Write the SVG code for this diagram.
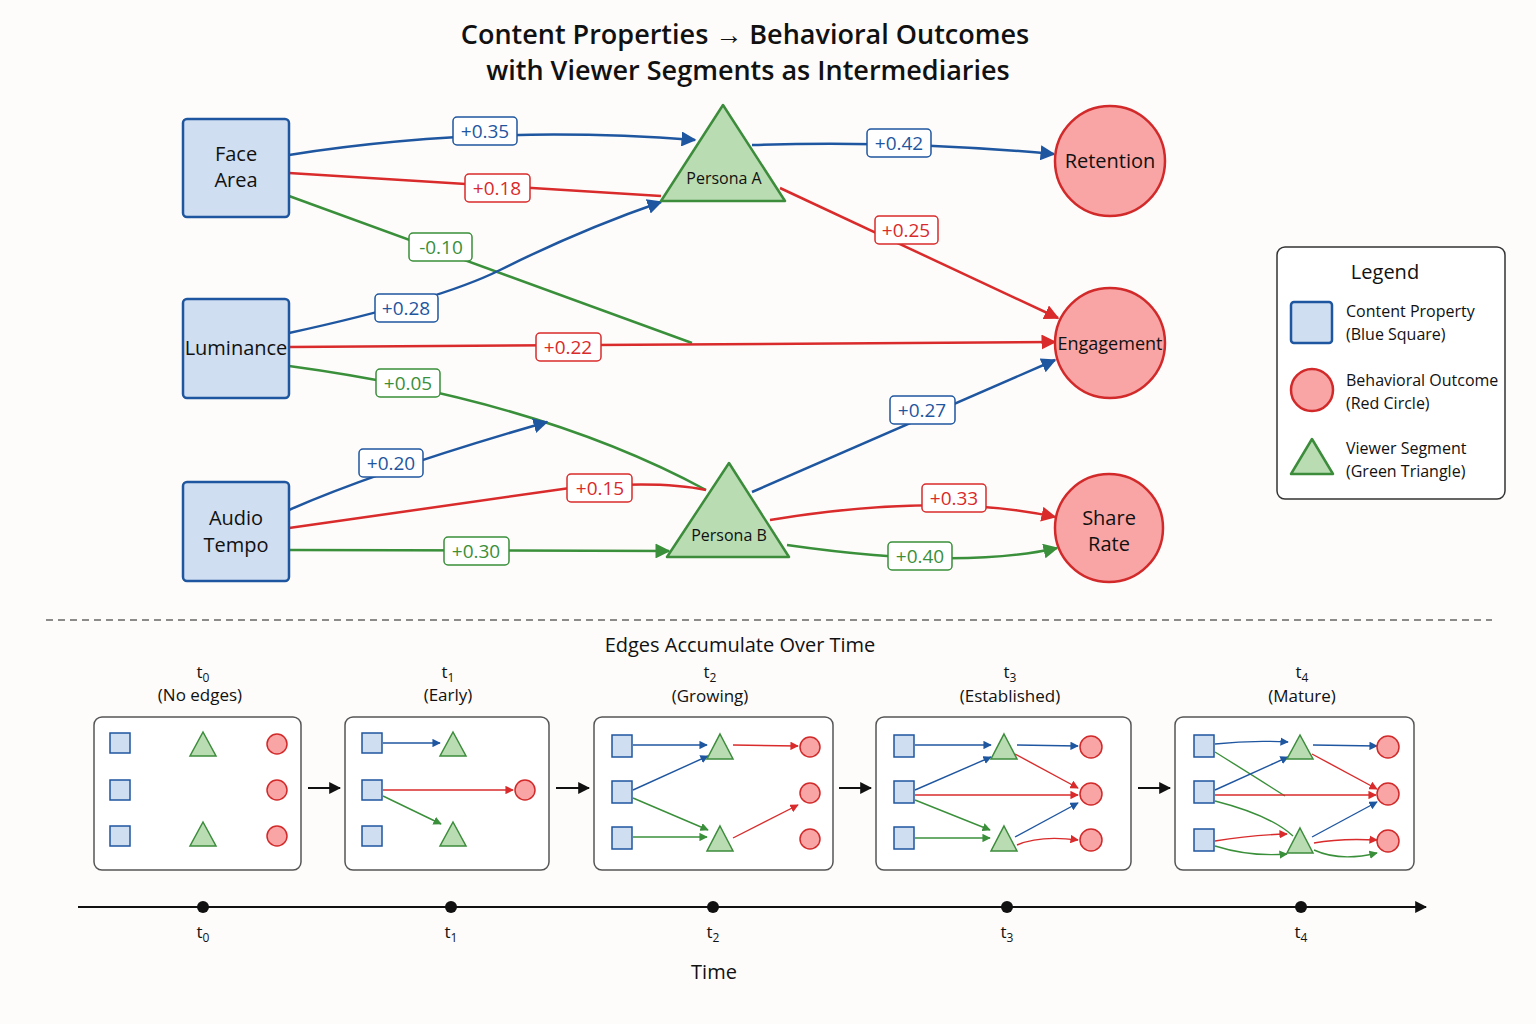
<svg xmlns="http://www.w3.org/2000/svg" width="1536" height="1024" viewBox="0 0 1536 1024">
<style>
text{font-family:"Open Sans","Liberation Sans",sans-serif;fill:#111}
.t{font-size:27px;font-weight:600;text-anchor:middle}
.n{font-size:20px;text-anchor:middle}
.p{font-size:16px;text-anchor:middle}
.lb{font-size:19px;text-anchor:middle}
.sq{fill:#cfdef0;stroke:#1f56a0;stroke-width:2.5}
.ci{fill:#f9a5a5;stroke:#d22a2a;stroke-width:2.5}
.tr{fill:#b9dcb2;stroke:#3c8c3c;stroke-width:2.5;stroke-linejoin:round}
.b{stroke:#1f56a0;fill:none;stroke-width:2.5}
.r{stroke:#d92b2b;fill:none;stroke-width:2.5}
.g{stroke:#3a8f3a;fill:none;stroke-width:2.5}
.bl{fill:#fff;stroke:#1f56a0;stroke-width:1.5}
.rl{fill:#fff;stroke:#d92b2b;stroke-width:1.5}
.gl{fill:#fff;stroke:#3a8f3a;stroke-width:1.5}
.bt{fill:#1f56a0}.rt{fill:#d92b2b}.gt{fill:#3a8f3a}
.mb{stroke:#1f56a0;fill:none;stroke-width:1.4}
.mr{stroke:#d92b2b;fill:none;stroke-width:1.4}
.mg{stroke:#3a8f3a;fill:none;stroke-width:1.4}
.ms{fill:#cfdef0;stroke:#1f56a0;stroke-width:1.5}
.mc{fill:#f9a5a5;stroke:#d22a2a;stroke-width:1.5}
.mt{fill:#b9dcb2;stroke:#3c8c3c;stroke-width:1.5}
.pn{fill:#fff;stroke:#555;stroke-width:1.5}
.s{font-size:17px;text-anchor:middle}
</style>
<defs>
<marker id="ab" viewBox="0 0 10 10" refX="9" refY="5" markerWidth="6" markerHeight="6" orient="auto"><path d="M0,0L10,5L0,10z" fill="#1f56a0"/></marker>
<marker id="ar" viewBox="0 0 10 10" refX="9" refY="5" markerWidth="6" markerHeight="6" orient="auto"><path d="M0,0L10,5L0,10z" fill="#d92b2b"/></marker>
<marker id="ag" viewBox="0 0 10 10" refX="9" refY="5" markerWidth="6" markerHeight="6" orient="auto"><path d="M0,0L10,5L0,10z" fill="#3a8f3a"/></marker>
<marker id="sb" viewBox="0 0 10 10" refX="9" refY="5" markerWidth="6" markerHeight="6" orient="auto"><path d="M0,0L10,5L0,10z" fill="#1f56a0"/></marker>
<marker id="ak" viewBox="0 0 10 10" refX="9" refY="5" markerWidth="6" markerHeight="6" orient="auto"><path d="M0,0L10,5L0,10z" fill="#111"/></marker>
</defs>
<rect width="1536" height="1024" fill="#fdfcfa"/>
<text class="t" x="745" y="44">Content Properties → Behavioral Outcomes</text>
<text class="t" x="748" y="80">with Viewer Segments as Intermediaries</text>

<g id="connectors">
<path class="b" marker-end="url(#ab)" d="M289,155 Q485,124 695,140"/>
<path class="r" d="M289,173 L661,196"/>
<path class="g" d="M289,196 Q520,280 692,343"/>
<path class="b" marker-end="url(#ab)" d="M289,333 Q440,300 500,270 Q580,230 661,202"/>
<path class="r" marker-end="url(#ar)" d="M289,347 L1055,342"/>
<path class="g" d="M289,366 Q540,400 706,490"/>
<path class="b" marker-end="url(#ab)" d="M289,510 Q380,470 547,422"/>
<path class="r" d="M289,528 L570,488 Q660,480 706,490"/>
<path class="g" marker-end="url(#ag)" d="M289,550 L669,551"/>
<path class="b" marker-end="url(#ab)" d="M752,145 Q900,140 1054,154"/>
<path class="r" marker-end="url(#ar)" d="M780,188 L1058,318"/>
<path class="b" marker-end="url(#ab)" d="M752,492 L1055,360"/>
<path class="r" marker-end="url(#ar)" d="M770,520 Q940,492 1055,517"/>
<path class="g" marker-end="url(#ag)" d="M787,545 Q960,570 1057,548"/>
<rect class="bl" x="453" y="117" width="64" height="28" rx="4"/><text class="lb bt" x="485" y="138">+0.35</text>
<rect class="rl" x="465" y="174" width="65" height="28" rx="4"/><text class="lb rt" x="497" y="195">+0.18</text>
<rect class="gl" x="409" y="233" width="63" height="28" rx="4"/><text class="lb gt" x="441" y="254">-0.10</text>
<rect class="bl" x="375" y="294" width="63" height="28" rx="4"/><text class="lb bt" x="406" y="315">+0.28</text>
<rect class="rl" x="536" y="333" width="65" height="28" rx="4"/><text class="lb rt" x="568" y="354">+0.22</text>
<rect class="gl" x="376" y="369" width="64" height="28" rx="4"/><text class="lb gt" x="408" y="390">+0.05</text>
<rect class="bl" x="359" y="449" width="64" height="28" rx="4"/><text class="lb bt" x="391" y="470">+0.20</text>
<rect class="rl" x="567" y="474" width="65" height="28" rx="4"/><text class="lb rt" x="600" y="495">+0.15</text>
<rect class="gl" x="444" y="537" width="65" height="28" rx="4"/><text class="lb gt" x="476" y="558">+0.30</text>
<rect class="bl" x="867" y="129" width="64" height="28" rx="4"/><text class="lb bt" x="899" y="150">+0.42</text>
<rect class="rl" x="875" y="216" width="63" height="28" rx="4"/><text class="lb rt" x="906" y="237">+0.25</text>
<rect class="bl" x="890" y="396" width="65" height="28" rx="4"/><text class="lb bt" x="922" y="417">+0.27</text>
<rect class="rl" x="922" y="484" width="64" height="28" rx="4"/><text class="lb rt" x="954" y="505">+0.33</text>
<rect class="gl" x="888" y="542" width="64" height="28" rx="4"/><text class="lb gt" x="920" y="563">+0.40</text>
</g>

<g id="face-area"><rect class="sq" x="183" y="119" width="106" height="98" rx="4"/><text class="n" x="236" y="161">Face</text><text class="n" x="236" y="187">Area</text></g>
<g id="luminance"><rect class="sq" x="183" y="299" width="106" height="99" rx="4"/><text class="n" x="236" y="355">Luminance</text></g>
<g id="audio-tempo"><rect class="sq" x="183" y="482" width="106" height="99" rx="4"/><text class="n" x="236" y="525">Audio</text><text class="n" x="236" y="552">Tempo</text></g>
<g id="persona-a"><path class="tr" d="M723,105 L785,201 L661,201Z"/><text class="p" x="724" y="184">Persona A</text></g>
<g id="persona-b"><path class="tr" d="M729,463 L789,557 L667,557Z"/><text class="p" x="729" y="541">Persona B</text></g>
<g id="retention"><circle class="ci" cx="1110" cy="161" r="55"/><text class="n" x="1110" y="168">Retention</text></g>
<g id="engagement"><circle class="ci" cx="1110" cy="343" r="55"/><text class="n" x="1110" y="350" style="font-size:18px">Engagement</text></g>
<g id="share-rate"><circle class="ci" cx="1109" cy="528" r="54"/><text class="n" x="1109" y="525">Share</text><text class="n" x="1109" y="551">Rate</text></g>

<g id="legend">
<rect x="1277" y="247" width="228" height="252" rx="8" fill="#fff" stroke="#333" stroke-width="1.5"/>
<text x="1385" y="279" style="font-size:20px;text-anchor:middle">Legend</text>
<rect class="sq" x="1291" y="302" width="41" height="41" rx="3"/>
<text x="1346" y="317" style="font-size:16px">Content Property</text><text x="1346" y="340" style="font-size:16px">(Blue Square)</text>
<circle class="ci" cx="1312" cy="390" r="21"/>
<text x="1346" y="386" style="font-size:16px">Behavioral Outcome</text><text x="1346" y="409" style="font-size:16px">(Red Circle)</text>
<path class="tr" d="M1312,439 L1333,474 L1291,474Z"/>
<text x="1346" y="454" style="font-size:16px">Viewer Segment</text><text x="1346" y="477" style="font-size:16px">(Green Triangle)</text>
</g>

<line x1="46" y1="620" x2="1492" y2="620" stroke="#666" stroke-width="1.3" stroke-dasharray="7,5"/>
<text x="740" y="652" style="font-size:20px;text-anchor:middle">Edges Accumulate Over Time</text>

<g id="panels">
<text class="s" x="203" y="678">t<tspan font-size="12" dy="4">0</tspan></text><text class="s" x="200" y="701">(No edges)</text>
<text class="s" x="448" y="678">t<tspan font-size="12" dy="4">1</tspan></text><text class="s" x="448" y="701">(Early)</text>
<text class="s" x="710" y="678">t<tspan font-size="12" dy="4">2</tspan></text><text class="s" x="710" y="702">(Growing)</text>
<text class="s" x="1010" y="678">t<tspan font-size="12" dy="4">3</tspan></text><text class="s" x="1010" y="702">(Established)</text>
<text class="s" x="1302" y="678">t<tspan font-size="12" dy="4">4</tspan></text><text class="s" x="1302" y="702">(Mature)</text>

<rect class="pn" x="94" y="717" width="207" height="153" rx="8"/>
<rect class="pn" x="345" y="717" width="204" height="153" rx="8"/>
<rect class="pn" x="594" y="717" width="239" height="153" rx="8"/>
<rect class="pn" x="876" y="717" width="255" height="153" rx="8"/>
<rect class="pn" x="1175" y="717" width="239" height="153" rx="8"/>
<g stroke="#111" stroke-width="2" marker-end="url(#ak)">
<line x1="308" y1="788" x2="340" y2="788"/><line x1="556" y1="788" x2="589" y2="788"/><line x1="839" y1="788" x2="871" y2="788"/><line x1="1138" y1="788" x2="1170" y2="788"/>
</g>

<!-- panel 1 -->
<rect class="ms" x="110" y="733" width="20" height="20"/><rect class="ms" x="110" y="780" width="20" height="20"/><rect class="ms" x="110" y="826" width="20" height="20"/>
<path class="mt" d="M203,732L216,756L190,756Z"/><path class="mt" d="M203,822L216,846L190,846Z"/>
<circle class="mc" cx="277" cy="744" r="10"/><circle class="mc" cx="277" cy="790" r="10"/><circle class="mc" cx="277" cy="836" r="10"/>

<!-- panel 2 -->
<path class="mb" marker-end="url(#ab)" d="M383,743L440,743"/>
<path class="mr" marker-end="url(#ar)" d="M383,790L513,790"/>
<path class="mg" marker-end="url(#ag)" d="M383,796L441,824"/>
<rect class="ms" x="362" y="733" width="20" height="20"/><rect class="ms" x="362" y="780" width="20" height="20"/><rect class="ms" x="362" y="826" width="20" height="20"/>
<path class="mt" d="M453,732L466,756L440,756Z"/><path class="mt" d="M453,822L466,846L440,846Z"/>
<circle class="mc" cx="525" cy="790" r="10"/>

<!-- panel 3 -->
<path class="mb" marker-end="url(#ab)" d="M633,745L707,745"/>
<path class="mb" marker-end="url(#ab)" d="M633,790L708,756"/>
<path class="mg" marker-end="url(#ag)" d="M633,798L708,830"/>
<path class="mg" marker-end="url(#ag)" d="M633,837L707,837"/>
<path class="mr" marker-end="url(#ar)" d="M733,745L798,746"/>
<path class="mr" marker-end="url(#ar)" d="M733,838L798,805"/>
<rect class="ms" x="612" y="735" width="20" height="22"/><rect class="ms" x="612" y="781" width="20" height="22"/><rect class="ms" x="612" y="827" width="20" height="22"/>
<path class="mt" d="M720,734L733,759L707,759Z"/><path class="mt" d="M720,826L733,851L707,851Z"/>
<circle class="mc" cx="810" cy="747" r="10"/><circle class="mc" cx="810" cy="793" r="10"/><circle class="mc" cx="810" cy="839" r="10"/>

<!-- panel 4 -->
<path class="mb" marker-end="url(#ab)" d="M915,745L991,745"/>
<path class="mb" marker-end="url(#ab)" d="M915,790L991,757"/>
<path class="mr" marker-end="url(#ar)" d="M915,795L1078,795"/>
<path class="mg" marker-end="url(#ag)" d="M915,800L990,830"/>
<path class="mg" marker-end="url(#ag)" d="M915,838L990,838"/>
<path class="mb" marker-end="url(#ab)" d="M1017,745L1078,746"/>
<path class="mr" marker-end="url(#ar)" d="M1015,754L1078,788"/>
<path class="mb" marker-end="url(#ab)" d="M1015,837L1078,803"/>
<path class="mr" marker-end="url(#ar)" d="M1017,845Q1040,835 1078,840"/>
<rect class="ms" x="894" y="735" width="20" height="22"/><rect class="ms" x="894" y="781" width="20" height="22"/><rect class="ms" x="894" y="827" width="20" height="22"/>
<path class="mt" d="M1004,734L1017,759L991,759Z"/><path class="mt" d="M1004,826L1017,851L991,851Z"/>
<circle class="mc" cx="1091" cy="747" r="11"/><circle class="mc" cx="1091" cy="794" r="11"/><circle class="mc" cx="1091" cy="840" r="11"/>

<!-- panel 5 -->
<path class="mb" marker-end="url(#ab)" d="M1215,744Q1250,740 1288,742"/>
<path class="mg" d="M1215,752Q1260,780 1285,796"/>
<path class="mb" marker-end="url(#ab)" d="M1215,790L1288,757"/>
<path class="mr" marker-end="url(#ar)" d="M1215,795L1376,795"/>
<path class="mg" d="M1215,801Q1270,815 1293,836"/>
<path class="mr" marker-end="url(#ar)" d="M1215,841Q1250,835 1287,834"/>
<path class="mg" marker-end="url(#ag)" d="M1215,846Q1250,857 1287,854"/>
<path class="mb" marker-end="url(#ab)" d="M1313,745L1377,746"/>
<path class="mr" marker-end="url(#ar)" d="M1312,754L1377,789"/>
<path class="mb" marker-end="url(#ab)" d="M1312,837L1377,802"/>
<path class="mr" marker-end="url(#ar)" d="M1314,843Q1340,838 1377,840"/>
<path class="mg" marker-end="url(#ag)" d="M1314,850Q1340,862 1377,853"/>
<rect class="ms" x="1194" y="735" width="20" height="22"/><rect class="ms" x="1194" y="781" width="20" height="22"/><rect class="ms" x="1194" y="829" width="20" height="22"/>
<path class="mt" d="M1300,735L1313,759L1287,759Z"/><path class="mt" d="M1300,828L1313,853L1287,853Z"/>
<circle class="mc" cx="1388" cy="747" r="11"/><circle class="mc" cx="1388" cy="794" r="11"/><circle class="mc" cx="1388" cy="841" r="11"/>
</g>

<g id="timeline">
<line x1="78" y1="907" x2="1426" y2="907" stroke="#111" stroke-width="2" marker-end="url(#ak)"/>
<g fill="#111"><circle cx="203" cy="907" r="6"/><circle cx="451" cy="907" r="6"/><circle cx="713" cy="907" r="6"/><circle cx="1007" cy="907" r="6"/><circle cx="1301" cy="907" r="6"/></g>
<text class="s" x="203" y="938">t<tspan font-size="12" dy="4">0</tspan></text>
<text class="s" x="451" y="938">t<tspan font-size="12" dy="4">1</tspan></text>
<text class="s" x="713" y="938">t<tspan font-size="12" dy="4">2</tspan></text>
<text class="s" x="1007" y="938">t<tspan font-size="12" dy="4">3</tspan></text>
<text class="s" x="1301" y="938">t<tspan font-size="12" dy="4">4</tspan></text>
<text x="714" y="979" style="font-size:20px;text-anchor:middle">Time</text>
</g>
</svg>
